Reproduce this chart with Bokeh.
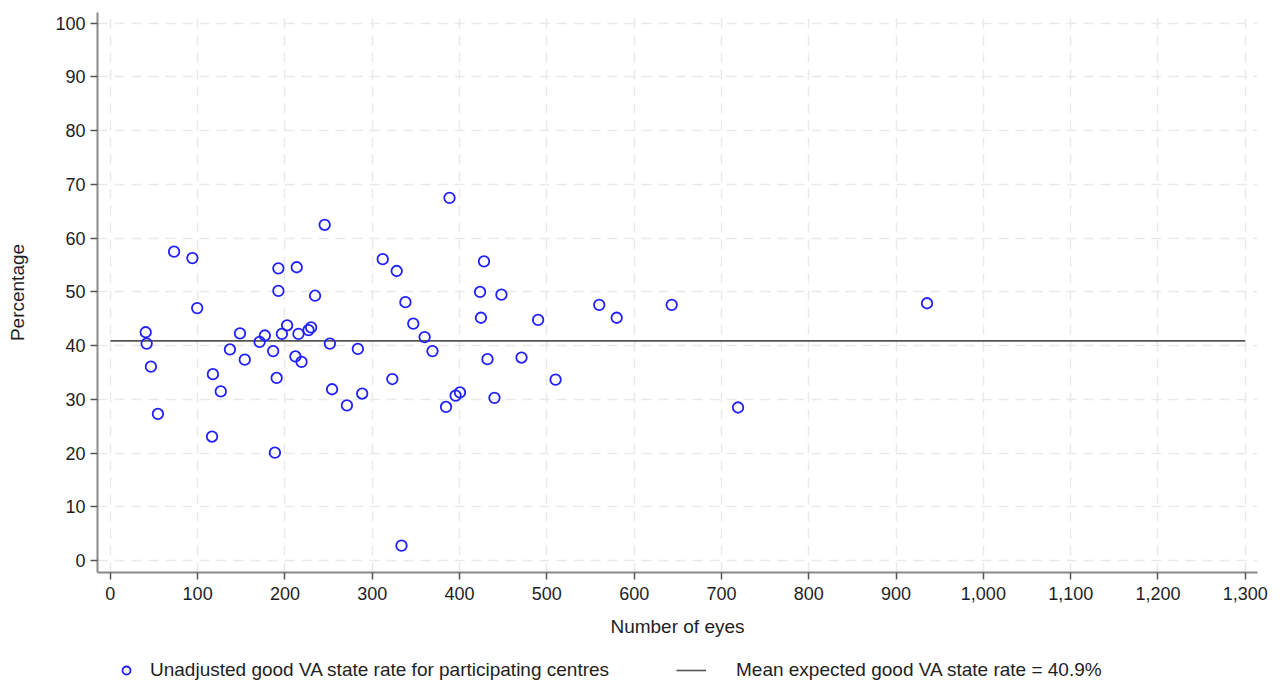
from bokeh.plotting import figure
from bokeh.layouts import column
from bokeh.models import Range1d, NumeralTickFormatter, FixedTicker, Legend, LegendItem, ColumnDataSource
from bokeh.embed import file_html
from bokeh.resources import INLINE

# ---- data ----
eyes = [40.5, 41.6, 46.5, 54.5, 73, 94, 99.5, 117.5, 116.5, 126.5, 137, 148.5, 154, 171, 177,
        186.5, 190.5, 188.5, 192.5, 192.5, 196.5, 202.5, 213.5, 215.5, 212, 219, 227, 230, 234.5,
        245.5, 251.5, 254, 271, 283.5, 288.5, 312, 328, 323, 333.5, 338, 347, 360, 369, 384.5,
        388.5, 395.5, 400.5, 423.5, 424.5, 428, 432, 440, 448, 471, 490, 510, 560, 580, 643, 719,
        935.5]
rate = [42.5, 40.4, 36.1, 27.3, 57.5, 56.3, 47.0, 34.7, 23.1, 31.5, 39.3, 42.3, 37.4, 40.7, 41.9,
        39.0, 34.0, 20.1, 54.4, 50.2, 42.2, 43.8, 54.6, 42.2, 38.0, 37.0, 42.9, 43.4, 49.3, 62.5,
        40.4, 31.9, 28.9, 39.4, 31.1, 56.1, 53.9, 33.8, 2.8, 48.1, 44.1, 41.6, 39.0, 28.6, 67.5,
        30.7, 31.3, 50.0, 45.2, 55.7, 37.5, 30.3, 49.5, 37.8, 44.8, 33.7, 47.6, 45.2, 47.6, 28.5,
        47.9]
mean_rate = 40.9
mean_x_extent = [0, 1300]
x_ticks = list(range(0, 1301, 100))
y_ticks = list(range(0, 101, 10))
scatter_label = "Unadjusted good VA state rate for participating centres"
mean_label = "Mean expected good VA state rate = 40.9%"

FONT = "Liberation Sans"
TEXT = "#1e1e1e"
MARKER_STYLE = dict(marker="circle", size=10.5, fill_color=None, line_color="#1f1fff", line_width=1.8)
LINE_STYLE = dict(line_color="#555555", line_width=1.6)

p = figure(width=1269, height=650, output_backend="svg", toolbar_location=None,
           x_range=Range1d(-14.7, 1314), y_range=Range1d(-2.2, 102.0),
           min_border_left=97, min_border_right=12, min_border_top=12, min_border_bottom=78,
           background_fill_color="white", border_fill_color="white")
p.outline_line_color = None

# axes
p.xaxis.ticker = FixedTicker(ticks=x_ticks)
p.yaxis.ticker = FixedTicker(ticks=y_ticks)
p.xaxis.formatter = NumeralTickFormatter(format="0,0")
for ax in (p.xaxis[0], p.yaxis[0]):
    ax.axis_line_color = "#8a8a8a"
    ax.axis_line_width = 2
    ax.major_tick_line_color = "#555555"
    ax.major_tick_line_width = 1.5
    ax.major_tick_out = 7
    ax.major_tick_in = 0
    ax.minor_tick_line_color = None
    ax.major_label_text_font = FONT
    ax.major_label_text_font_size = "18px"
    ax.major_label_text_color = TEXT
    ax.axis_label_text_font = FONT
    ax.axis_label_text_font_size = "19px"
    ax.axis_label_text_font_style = "normal"
    ax.axis_label_text_color = TEXT
p.xaxis.axis_label = "Number of eyes"
p.yaxis.axis_label = "Percentage"
p.xaxis.major_label_standoff = 7
p.yaxis.major_label_standoff = 5
p.xaxis.axis_label_standoff = 13
p.yaxis.axis_label_standoff = 24
p.yaxis.major_label_orientation = "horizontal"

# grid
for g in (p.xgrid[0], p.ygrid[0]):
    g.grid_line_color = "#e9e9e9"
    g.grid_line_width = 1.5
    g.grid_line_dash = "10 7"

src = ColumnDataSource(dict(eyes=eyes, rate=rate))
mean_src = ColumnDataSource(dict(x=mean_x_extent, y=[mean_rate, mean_rate]))

p.line("x", "y", source=mean_src, **LINE_STYLE)
p.scatter("eyes", "rate", source=src, **MARKER_STYLE)

# ---- legend strip below the chart (key renderers share the data, outside its range) ----
lg = figure(width=1269, height=31, output_backend="svg", toolbar_location=None,
            x_range=Range1d(-3, -2), y_range=Range1d(-3, -2),
            x_axis_type=None, y_axis_type=None,
            min_border_left=0, min_border_right=0, min_border_top=0, min_border_bottom=0,
            background_fill_color="white", border_fill_color="white")
lg.outline_line_color = None
lg.xgrid.visible = False
lg.ygrid.visible = False
key_sc = lg.scatter("eyes", "rate", source=src, **MARKER_STYLE)
key_ln = lg.line("x", "y", source=mean_src, **LINE_STYLE)

common = dict(orientation="horizontal", glyph_height=20, label_height=20,
              padding=0, margin=0, border_line_color=None, background_fill_alpha=0,
              label_text_font=FONT, label_text_font_size="19px", label_text_color=TEXT)
leg1 = Legend(items=[LegendItem(label=scatter_label, renderers=[key_sc])],
              location=(19, 0), glyph_width=20, label_standoff=14, **common)
leg2 = Legend(items=[LegendItem(label=mean_label, renderers=[key_ln])],
              location=(579, 0), glyph_width=30, label_standoff=30, **common)
lg.add_layout(leg1, "center")
lg.add_layout(leg2, "center")

open("out.html", "w").write(file_html(column(p, lg), INLINE))
